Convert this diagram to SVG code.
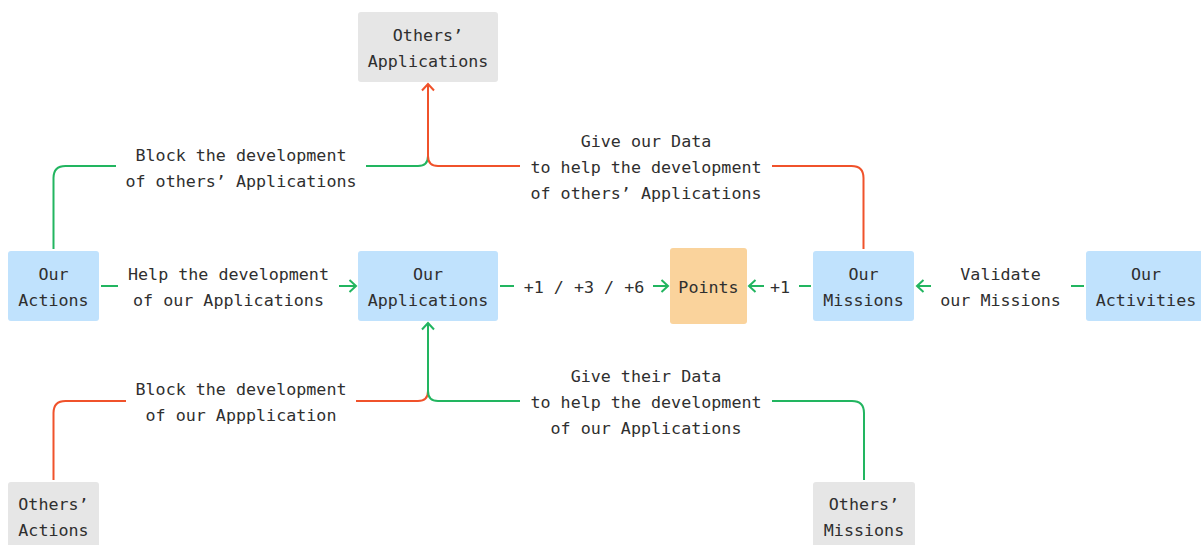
<svg xmlns="http://www.w3.org/2000/svg" width="1201" height="545" viewBox="0 0 1201 545">
  <style>
    text { font-family: "DejaVu Sans Mono", "Liberation Mono", monospace; font-size: 16.7px; fill: #2f2f2f; text-anchor: middle; }
    .ours { fill: #c0e2fd; }
    .points { fill: #fad39c; }
    .others { fill: #e6e6e6; }
    .g { stroke: #22b560; stroke-width: 2; fill: none; }
    .r { stroke: #f0522b; stroke-width: 2; fill: none; }
  </style>
  <defs>
    <marker id="arrowG" viewBox="-9 -8 11 16" markerWidth="11" markerHeight="16" refX="0" refY="0" orient="auto" markerUnits="userSpaceOnUse">
      <path d="M-6.5,-6 L0,0 L-6.5,6" fill="none" stroke="#22b560" stroke-width="2"/>
    </marker>
    <marker id="arrowR" viewBox="-9 -8 11 16" markerWidth="11" markerHeight="16" refX="0" refY="0" orient="auto" markerUnits="userSpaceOnUse">
      <path d="M-6.5,-6 L0,0 L-6.5,6" fill="none" stroke="#f0522b" stroke-width="2"/>
    </marker>
  </defs>

  <rect width="1201" height="545" fill="#ffffff"/>

  <!-- connectors -->
  <g id="connectors">
    <!-- Our Actions -> Our Applications -->
    <line class="g" x1="101" y1="286" x2="118" y2="286"/>
    <path class="g" d="M339,286 H356" marker-end="url(#arrowG)"/>
    <!-- Our Applications -> Points -->
    <line class="g" x1="500" y1="286" x2="514" y2="286"/>
    <path class="g" d="M653,286 H668" marker-end="url(#arrowG)"/>
    <!-- Our Missions -> Points -->
    <line class="g" x1="799" y1="286" x2="811" y2="286"/>
    <path class="g" d="M764,286 H749" marker-end="url(#arrowG)"/>
    <!-- Our Activities -> Our Missions -->
    <line class="g" x1="1071" y1="286" x2="1084" y2="286"/>
    <path class="g" d="M931,286 H917" marker-end="url(#arrowG)"/>

    <!-- Our Actions -> Others' Applications (block) -->
    <path class="g" d="M53.5,249 V178 Q53.5,166 65.5,166 H116"/>
    <path class="g" d="M366,166 H418 Q428,166 428,156 V150"/>
    <!-- Our Missions -> Others' Applications (give data) -->
    <path class="r" d="M863.5,249 V178 Q863.5,166 851.5,166 H772"/>
    <path class="r" d="M520,166 H438 Q428,166 428,156 V84" marker-end="url(#arrowR)"/>

    <!-- Others' Actions -> Our Applications (block) -->
    <path class="r" d="M53.5,480 V413 Q53.5,401 65.5,401 H126"/>
    <path class="r" d="M356,401 H418 Q428,401 428,391 V385"/>
    <!-- Others' Missions -> Our Applications (give data) -->
    <path class="g" d="M864,480 V413 Q864,401 852,401 H772"/>
    <path class="g" d="M520,401 H438 Q428,401 428,391 V323" marker-end="url(#arrowG)"/>
  </g>

  <!-- connector labels -->
  <g id="labels">
    <text x="228.5" y="280">Help the development</text>
    <text x="228.5" y="306">of our Applications</text>
    <text x="584" y="293">+1 / +3 / +6</text>
    <text x="780" y="293">+1</text>
    <text x="1000.5" y="280">Validate</text>
    <text x="1000.5" y="306">our Missions</text>
    <text x="241" y="161">Block the development</text>
    <text x="241" y="187">of others’ Applications</text>
    <text x="646" y="147">Give our Data</text>
    <text x="646" y="173">to help the development</text>
    <text x="646" y="199">of others’ Applications</text>
    <text x="241" y="395">Block the development</text>
    <text x="241" y="421">of our Appplication</text>
    <text x="646" y="382">Give their Data</text>
    <text x="646" y="408">to help the development</text>
    <text x="646" y="434">of our Applications</text>
  </g>

  <!-- nodes -->
  <g id="our-actions">
    <rect class="ours" x="8" y="251" width="91" height="70" rx="3"/>
    <text x="53.5" y="280">Our</text>
    <text x="53.5" y="306">Actions</text>
  </g>
  <g id="our-applications">
    <rect class="ours" x="358" y="251" width="140" height="70" rx="3"/>
    <text x="428" y="280">Our</text>
    <text x="428" y="306">Applications</text>
  </g>
  <g id="points">
    <rect class="points" x="670" y="248" width="77" height="76" rx="3"/>
    <text x="708.5" y="293">Points</text>
  </g>
  <g id="our-missions">
    <rect class="ours" x="813" y="251" width="101" height="70" rx="3"/>
    <text x="863.5" y="280">Our</text>
    <text x="863.5" y="306">Missions</text>
  </g>
  <g id="our-activities">
    <rect class="ours" x="1086" y="251" width="120" height="70" rx="3"/>
    <text x="1146" y="280">Our</text>
    <text x="1146" y="306">Activities</text>
  </g>
  <g id="others-applications">
    <rect class="others" x="358" y="12" width="140" height="70" rx="3"/>
    <text x="428" y="41">Others’</text>
    <text x="428" y="67">Applications</text>
  </g>
  <g id="others-actions">
    <rect class="others" x="8" y="482" width="91" height="70" rx="3"/>
    <text x="53.5" y="510">Others’</text>
    <text x="53.5" y="536">Actions</text>
  </g>
  <g id="others-missions">
    <rect class="others" x="813" y="482" width="102" height="70" rx="3"/>
    <text x="864" y="510">Others’</text>
    <text x="864" y="536">Missions</text>
  </g>
</svg>
